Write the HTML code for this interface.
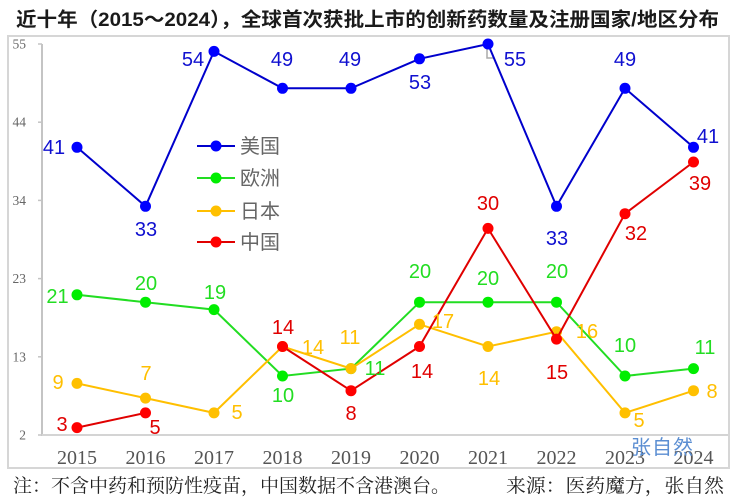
<!DOCTYPE html>
<html>
<head>
<meta charset="utf-8">
<style>
html,body{margin:0;padding:0;background:#fff;}
svg{display:block;}
.t{font-family:"Liberation Sans","Noto Sans CJK SC",sans-serif;font-size:20px;text-anchor:middle;}
.yl{font-family:"Liberation Serif","Noto Serif CJK SC",serif;font-size:13.5px;fill:#666;text-anchor:end;}
.xl{font-family:"Liberation Serif","Noto Serif CJK SC",serif;font-size:20px;fill:#555;text-anchor:middle;}
.lg{font-family:"Liberation Sans","Noto Sans CJK SC",sans-serif;font-size:20px;fill:#666;}
.b{fill:#1010d0;} .g{fill:#22dd22;} .y{fill:#ffbf00;} .r{fill:#e00000;}
</style>
</head>
<body>
<svg width="734" height="502" viewBox="0 0 734 502" xmlns="http://www.w3.org/2000/svg">
<rect width="734" height="502" fill="#fff"/>
<!-- title -->
<text x="16" y="26" textLength="703" lengthAdjust="spacingAndGlyphs" style="font-family:'Liberation Sans','Noto Sans CJK SC',sans-serif;font-size:19.5px;font-weight:bold;fill:#1a1a1a;">近十年（2015～2024），全球首次获批上市的创新药数量及注册国家/地区分布</text>
<!-- chart border -->
<rect x="8" y="36" width="721" height="432" fill="none" stroke="#d6d6d6" stroke-width="2"/>
<!-- axes -->
<line x1="42" y1="44" x2="42" y2="436" stroke="#c4c4c4" stroke-width="2"/>
<line x1="41" y1="435" x2="728" y2="435" stroke="#d4d4d4" stroke-width="2"/>
<g stroke="#c4c4c4" stroke-width="1.5">
<line x1="38" y1="44" x2="42" y2="44"/>
<line x1="38" y1="122.2" x2="42" y2="122.2"/>
<line x1="38" y1="200.4" x2="42" y2="200.4"/>
<line x1="38" y1="278.6" x2="42" y2="278.6"/>
<line x1="38" y1="356.8" x2="42" y2="356.8"/>
<line x1="38" y1="435" x2="42" y2="435"/>
</g>
<text class="yl" x="26" y="48.5">55</text>
<text class="yl" x="26" y="126.7">44</text>
<text class="yl" x="26" y="204.9">34</text>
<text class="yl" x="26" y="283.1">23</text>
<text class="yl" x="26" y="361.3">13</text>
<text class="yl" x="26" y="439.5">2</text>
<!-- x labels -->
<g class="xl">
<text x="77" y="464">2015</text>
<text x="145.5" y="464">2016</text>
<text x="214" y="464">2017</text>
<text x="282.5" y="464">2018</text>
<text x="351" y="464">2019</text>
<text x="419.5" y="464">2020</text>
<text x="488" y="464">2021</text>
<text x="556.5" y="464">2022</text>
<text x="625" y="464">2023</text>
<text x="693.5" y="464">2024</text>
</g>
<!-- watermark -->
<text x="631" y="454" style="font-family:'Liberation Sans','Noto Sans CJK SC',sans-serif;font-size:20px;fill:#5b8ed2;letter-spacing:1px;">张自然</text>
<!-- leader mark -->
<polyline points="487,45 487,58 494,58" fill="none" stroke="#aaa" stroke-width="1.5"/>

<!-- US -->
<polyline fill="none" stroke="#0000cc" stroke-width="2" points="77,147.3 145.5,206.3 214,51.4 282.5,88.3 351,88.3 419.5,58.8 488,44 556.5,206.3 625,88.3 693.5,147.3"/>
<g fill="#0000ff">
<circle cx="77" cy="147.3" r="5.5"/><circle cx="145.5" cy="206.3" r="5.5"/><circle cx="214" cy="51.4" r="5.5"/><circle cx="282.5" cy="88.3" r="5.5"/><circle cx="351" cy="88.3" r="5.5"/><circle cx="419.5" cy="58.8" r="5.5"/><circle cx="488" cy="44" r="5.5"/><circle cx="556.5" cy="206.3" r="5.5"/><circle cx="625" cy="88.3" r="5.5"/><circle cx="693.5" cy="147.3" r="5.5"/>
</g>
<!-- Europe -->
<polyline fill="none" stroke="#22dd22" stroke-width="2" points="77,294.8 145.5,302.2 214,309.6 282.5,376 351,368.6 419.5,302.2 488,302.2 556.5,302.2 625,376 693.5,368.6"/>
<g fill="#00ee00">
<circle cx="77" cy="294.8" r="5.5"/><circle cx="145.5" cy="302.2" r="5.5"/><circle cx="214" cy="309.6" r="5.5"/><circle cx="282.5" cy="376" r="5.5"/><circle cx="351" cy="368.6" r="5.5"/><circle cx="419.5" cy="302.2" r="5.5"/><circle cx="488" cy="302.2" r="5.5"/><circle cx="556.5" cy="302.2" r="5.5"/><circle cx="625" cy="376" r="5.5"/><circle cx="693.5" cy="368.6" r="5.5"/>
</g>
<!-- Japan -->
<polyline fill="none" stroke="#ffbf00" stroke-width="2" points="77,383.4 145.5,398.1 214,412.9 282.5,346.5 351,368.6 419.5,324.3 488,346.5 556.5,331.7 625,412.9 693.5,390.7"/>
<g fill="#ffc000">
<circle cx="77" cy="383.4" r="5.5"/><circle cx="145.5" cy="398.1" r="5.5"/><circle cx="214" cy="412.9" r="5.5"/><circle cx="282.5" cy="346.5" r="5.5"/><circle cx="351" cy="368.6" r="5.5"/><circle cx="419.5" cy="324.3" r="5.5"/><circle cx="488" cy="346.5" r="5.5"/><circle cx="556.5" cy="331.7" r="5.5"/><circle cx="625" cy="412.9" r="5.5"/><circle cx="693.5" cy="390.7" r="5.5"/>
</g>
<!-- China -->
<polyline fill="none" stroke="#e00000" stroke-width="2" points="77,427.6 145.5,412.9"/>
<polyline fill="none" stroke="#e00000" stroke-width="2" points="282.5,346.5 351,390.7 419.5,346.5 488,228.4 556.5,339.1 625,213.7 693.5,162"/>
<g fill="#ff0000">
<circle cx="77" cy="427.6" r="5.5"/><circle cx="145.5" cy="412.9" r="5.5"/><circle cx="282.5" cy="346.5" r="5.5"/><circle cx="351" cy="390.7" r="5.5"/><circle cx="419.5" cy="346.5" r="5.5"/><circle cx="488" cy="228.4" r="5.5"/><circle cx="556.5" cy="339.1" r="5.5"/><circle cx="625" cy="213.7" r="5.5"/><circle cx="693.5" cy="162" r="5.5"/>
</g>

<!-- US labels -->
<g class="t b">
<text x="54" y="154">41</text>
<text x="146" y="236">33</text>
<text x="193" y="66">54</text>
<text x="282" y="66">49</text>
<text x="350" y="66">49</text>
<text x="420" y="89">53</text>
<text x="515" y="66">55</text>
<text x="557" y="245">33</text>
<text x="625" y="66">49</text>
<text x="708" y="143">41</text>
</g>
<!-- Europe labels -->
<g class="t g">
<text x="57.5" y="303">21</text>
<text x="146" y="290">20</text>
<text x="215" y="299">19</text>
<text x="283" y="402">10</text>
<text x="375" y="375">11</text>
<text x="420" y="278">20</text>
<text x="488" y="285">20</text>
<text x="557" y="278">20</text>
<text x="625" y="352">10</text>
<text x="705" y="354">11</text>
</g>
<!-- Japan labels -->
<g class="t y">
<text x="58" y="389">9</text>
<text x="146" y="380">7</text>
<text x="237" y="419">5</text>
<text x="313" y="354">14</text>
<text x="350" y="344">11</text>
<text x="443" y="328">17</text>
<text x="489" y="385">14</text>
<text x="587" y="338">16</text>
<text x="639" y="427">5</text>
<text x="712" y="398">8</text>
</g>
<!-- China labels -->
<g class="t r">
<text x="62" y="431">3</text>
<text x="155" y="434">5</text>
<text x="283" y="334">14</text>
<text x="351" y="420">8</text>
<text x="422" y="378">14</text>
<text x="488" y="210">30</text>
<text x="557" y="379">15</text>
<text x="636" y="240">32</text>
<text x="700" y="190">39</text>
</g>

<!-- legend -->
<line x1="197" y1="146" x2="235" y2="146" stroke="#0000cc" stroke-width="2"/><circle cx="216" cy="146" r="5.5" fill="#0000ff"/>
<text class="lg" x="240" y="153">美国</text>
<line x1="197" y1="178" x2="235" y2="178" stroke="#22dd22" stroke-width="2"/><circle cx="216" cy="178" r="5.5" fill="#00ee00"/>
<text class="lg" x="240" y="185">欧洲</text>
<line x1="197" y1="211" x2="235" y2="211" stroke="#ffbf00" stroke-width="2"/><circle cx="216" cy="211" r="5.5" fill="#ffc000"/>
<text class="lg" x="240" y="218">日本</text>
<line x1="197" y1="242" x2="235" y2="242" stroke="#e00000" stroke-width="2"/><circle cx="216" cy="242" r="5.5" fill="#ff0000"/>
<text class="lg" x="240" y="249">中国</text>

<!-- footer -->
<text x="13" y="492" textLength="437" lengthAdjust="spacingAndGlyphs" style="font-family:'Liberation Serif','Noto Serif CJK SC',serif;font-size:19px;fill:#222;">注：不含中药和预防性疫苗，中国数据不含港澳台。</text>
<text x="506" y="492" textLength="218" lengthAdjust="spacingAndGlyphs" style="font-family:'Liberation Serif','Noto Serif CJK SC',serif;font-size:19px;fill:#222;">来源：医药魔方，张自然</text>
</svg>
</body>
</html>
